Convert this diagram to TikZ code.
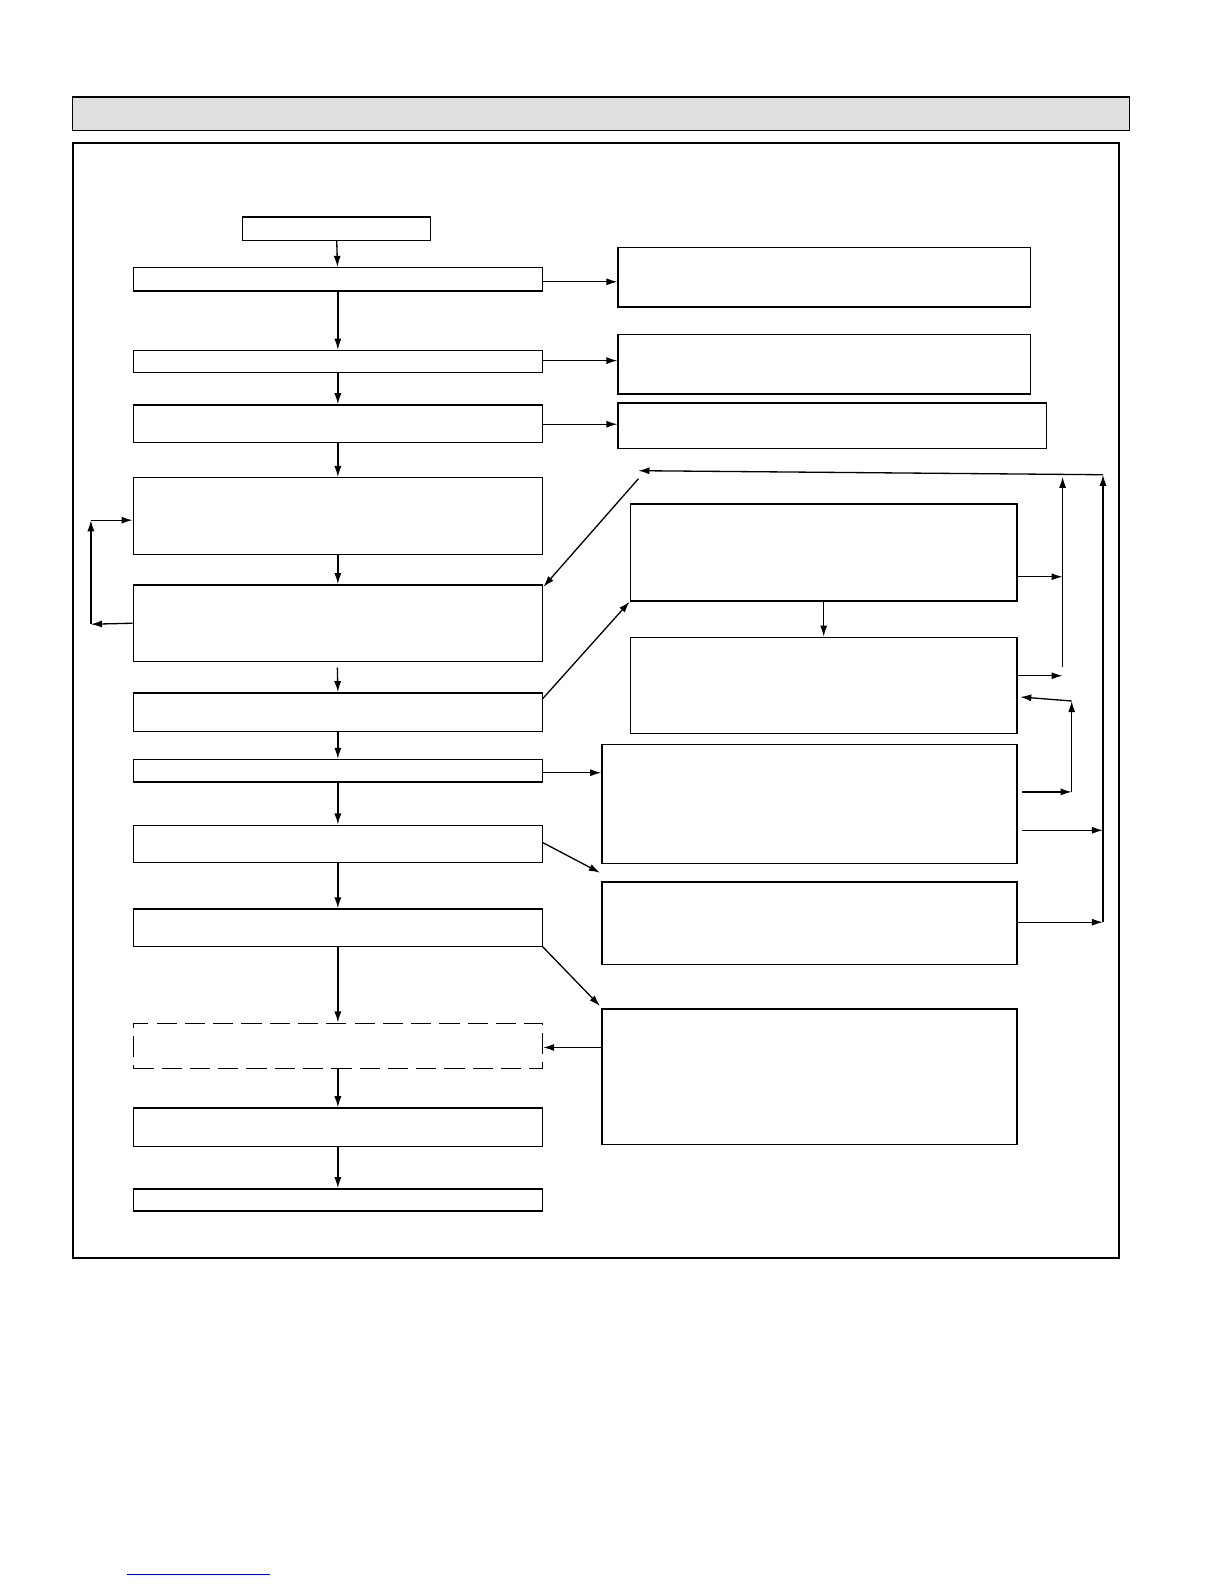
\documentclass[tikz,border=0pt]{standalone}
\usetikzlibrary{arrows.meta}
\begin{document}
\begin{tikzpicture}[x=1pt,y=-1pt,
  bx/.style={draw,line width=1.4pt},
  ar/.style={line width=1.3pt,-{Latex[length=11pt,width=7pt]}},
  ln/.style={line width=1.3pt}]
\draw[line width=1.5pt,fill=gray!25] (72,96) rectangle (1118,129);
\draw[line width=2pt] (72,142) rectangle (1108,1245);
\node[bx,minimum width=186pt,minimum height=23pt] (S) at (333,226.5) {};
\def\lb#1#2#3{\node[bx,minimum width=405pt,minimum height=#3pt,inner sep=0] (#1) at (334.5,#2) {};}
\lb{L1}{276.5}{23}
\lb{L2}{358}{22}
\lb{L3}{419.5}{37}
\lb{L4}{511}{76}
\lb{L5}{617}{76}
\lb{L6}{705}{38}
\lb{L7}{763}{22}
\lb{L8}{835.5}{37}
\lb{L9}{918.5}{37}
\node[draw,dashed,dash pattern=on 20pt off 8pt,line width=1.4pt,minimum width=405pt,minimum height=45pt] (L10) at (334.5,1035.5) {};
\lb{L11}{1116}{38}
\lb{L12}{1188}{22}
\node[bx,minimum width=408pt,minimum height=59pt] (R1) at (816,274.5) {};
\node[bx,minimum width=408pt,minimum height=59pt] (R2) at (816,360.5) {};
\node[bx,minimum width=424pt,minimum height=45pt] (R3) at (824,421.5) {};
\node[bx,minimum width=383pt,minimum height=96pt] (R4) at (815.5,547) {};
\node[bx,minimum width=383pt,minimum height=95pt] (R5) at (815.5,678.5) {};
\node[bx,minimum width=411pt,minimum height=118pt] (R6) at (801.5,796) {};
\node[bx,minimum width=411pt,minimum height=82pt] (R7) at (801.5,914) {};
\node[bx,minimum width=411pt,minimum height=134pt] (R8) at (801.5,1066) {};
% main column
\draw[ar] (S) -- (L1);
\draw[ar] (L1.south) -- (L2.north);
\draw[ar] (L2) -- (L3);
\draw[ar] (L3) -- (L4);
\draw[ar] (L4) -- (L5);
\draw[ar] (334,661) -- (L6.north);
\draw[ar] (L6) -- (L7);
\draw[ar] (L7) -- (L8);
\draw[ar] (L8) -- (L9);
\draw[ar] (L9) -- (L10);
\draw[ar] (L10) -- (L11);
\draw[ar] (L11) -- (L12);
% right branches
\draw[ar] (537,279) -- (R1.west|-0,279);
\draw[ar] (537,357) -- (R2.west|-0,357);
\draw[ar] (537,420) -- (R3.west|-0,420);
\draw[ar] (537,765) -- (R6.west|-0,765);
\draw[ar] (537,834) -- (594,864);
\draw[ar] (537,937) -- (594,996);
\draw[ar] (R8.west|-0,1037) -- (L10.east|-0,1037);
% loop left
\draw[ar] (L5.west) -- (90,618);
\draw[ar] (90,618) -- (90,515);
\draw[ar] (90,515) -- (L4.west|-0,515);
% diagonals
\draw[ar] (1092,470) -- (632,466);
\draw[ar] (632,474) -- (538,581);
\draw[ar] (537,692) -- (R4.south west);
\draw[ar] (R4.south) -- (R5.north);
% right feedback
\draw[ar] (R4.east|-0,571) -- (1052,571);
\draw[ar] (R5.east|-0,669) -- (1052,669);
\draw[ar] (1052,660) -- (1052,472);
\draw[ar] (1012,784) -- (1061,784);
\draw[ar] (1061,784) -- (1061,694);
\draw[ar] (1061,694) -- (1010,690);
\draw[ar] (1092,913) -- (1092,470);
\draw[ar] (1012,822) -- (1092,822);
\draw[ar] (R7.east|-0,913) -- (1092,913);
\draw[blue!80!black,line width=0.8pt] (126,1559) -- (267,1559);
\pgfresetboundingbox
\path[use as bounding box] (0,0) rectangle (1211.8,1568.2);
\end{tikzpicture}
\end{document}
